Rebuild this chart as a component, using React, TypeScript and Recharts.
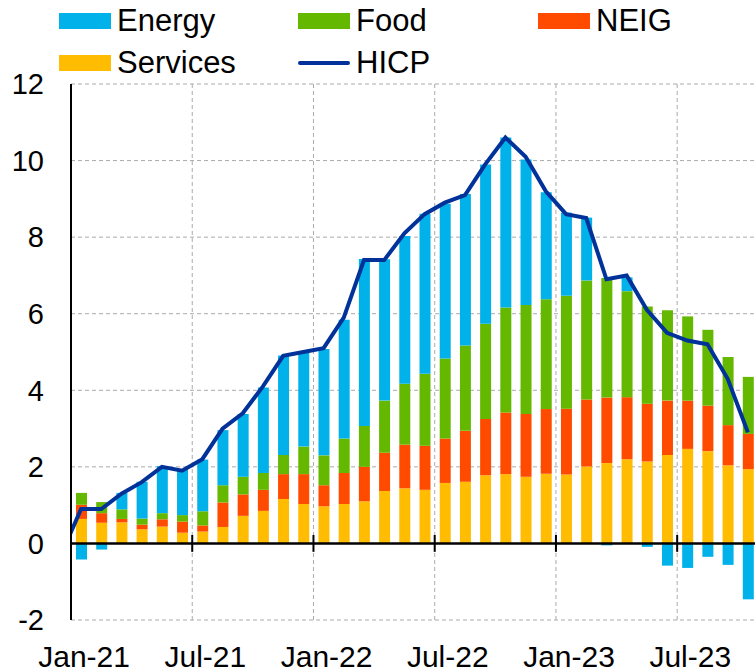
import {
  Bar,
  CartesianGrid,
  ComposedChart,
  Line,
  ReferenceLine,
  XAxis,
  YAxis,
} from "recharts";

// Euro area HICP inflation, contributions by component (pp).
// Dec-20 only feeds the HICP line, which gets clipped at the left axis.
const months = [
  "Dec-20",
  "Jan-21", "Feb-21", "Mar-21", "Apr-21", "May-21", "Jun-21",
  "Jul-21", "Aug-21", "Sep-21", "Oct-21", "Nov-21", "Dec-21",
  "Jan-22", "Feb-22", "Mar-22", "Apr-22", "May-22", "Jun-22",
  "Jul-22", "Aug-22", "Sep-22", "Oct-22", "Nov-22", "Dec-22",
  "Jan-23", "Feb-23", "Mar-23", "Apr-23", "May-23", "Jun-23",
  "Jul-23", "Aug-23", "Sep-23", "Oct-23",
];

const services = [
  null,
  0.64, 0.54, 0.55, 0.37, 0.44, 0.28, 0.31, 0.43, 0.72, 0.85, 1.16, 1.03,
  0.97, 1.03, 1.1, 1.37, 1.44, 1.4, 1.58, 1.61, 1.78, 1.81, 1.74, 1.82,
  1.8, 2.01, 2.1, 2.2, 2.14, 2.31, 2.47, 2.41, 2.04, 1.94,
];
const neig = [
  null,
  0.37, 0.25, 0.09, 0.12, 0.19, 0.29, 0.16, 0.64, 0.56, 0.55, 0.65, 0.78,
  0.55, 0.81, 0.9, 1.0, 1.14, 1.15, 1.16, 1.33, 1.47, 1.61, 1.64, 1.69,
  1.72, 1.75, 1.71, 1.62, 1.51, 1.42, 1.26, 1.19, 1.05, 0.92,
];
const food = [
  null,
  0.31, 0.29, 0.25, 0.16, 0.16, 0.17, 0.37, 0.45, 0.46, 0.44, 0.5, 0.72,
  0.78, 0.9, 1.07, 1.36, 1.59, 1.88, 2.09, 2.23, 2.49, 2.74, 2.85, 2.87,
  2.95, 3.11, 3.12, 2.77, 2.54, 2.36, 2.2, 1.98, 1.78, 1.49,
];
const energy = [
  null,
  -0.42, -0.16, 0.43, 0.96, 1.23, 1.19, 1.35, 1.44, 1.64, 2.23, 2.6, 2.47,
  2.78, 3.1, 4.36, 3.69, 3.86, 4.18, 4.04, 3.96, 4.16, 4.44, 3.8, 2.79,
  2.17, 1.64, -0.05, 0.36, -0.09, -0.58, -0.64, -0.35, -0.56, -1.46,
];
const hicp = [
  -0.3,
  0.9, 0.9, 1.3, 1.6, 2.0, 1.9, 2.2, 3.0, 3.4, 4.1, 4.9, 5.0,
  5.1, 5.9, 7.4, 7.4, 8.1, 8.6, 8.9, 9.1, 9.9, 10.6, 10.1, 9.2,
  8.6, 8.5, 6.9, 7.0, 6.1, 5.5, 5.3, 5.2, 4.3, 2.9,
];

const labelTicks = [0, 6, 12, 18, 24, 30];
const yTicks = [-2, 0, 2, 4, 6, 8, 10, 12];

const C_ENERGY = "#00b1ea";
const C_FOOD = "#65b800";
const C_NEIG = "#ff4b00";
const C_SERV = "#ffbc00";
const C_HICP = "#003299";

const FONT = '"Liberation Sans", Arial, sans-serif';

// x = month index, Jan-21 = 0
const rows = months.map((m, k) => ({
  i: k - 1,
  month: m,
  services: services[k],
  neig: neig[k],
  food: food[k],
  energy: energy[k],
  hicp: hicp[k],
}));

// half-year boundaries (between Jun/Jul and Dec/Jan)
const bounds = [-0.5, 5.5, 11.5, 17.5, 23.5, 29.5];

function LegendItem({ color, label, line }: { color: string; label: string; line?: boolean }) {
  return (
    <div style={{ display: "flex", alignItems: "center", height: 32 }}>
      {line ? (
        <span style={{ width: 52, height: 4, borderRadius: 2, background: color }} />
      ) : (
        <span style={{ width: 52, height: 16, background: color }} />
      )}
      <span style={{ marginLeft: 6, fontSize: 31, lineHeight: "32px", color: "#000" }}>{label}</span>
    </div>
  );
}

export default function App() {
  return (
    <div
      style={{
        position: "absolute",
        left: 0,
        top: 0,
        width: 755,
        height: 672,
        overflow: "hidden",
        background: "#fff",
        fontFamily: FONT,
      }}
    >
      <div style={{ position: "absolute", left: 59, top: 5 }}>
        <LegendItem color={C_ENERGY} label="Energy" />
      </div>
      <div style={{ position: "absolute", left: 298, top: 5 }}>
        <LegendItem color={C_FOOD} label="Food" />
      </div>
      <div style={{ position: "absolute", left: 538, top: 5 }}>
        <LegendItem color={C_NEIG} label="NEIG" />
      </div>
      <div style={{ position: "absolute", left: 59, top: 47 }}>
        <LegendItem color={C_SERV} label="Services" />
      </div>
      <div style={{ position: "absolute", left: 298, top: 47 }}>
        <LegendItem color={C_HICP} label="HICP" line />
      </div>

      <div style={{ position: "absolute", left: 0, top: 0 }}>
        <ComposedChart
          width={760}
          height={672}
          data={rows}
          stackOffset="sign"
          margin={{ top: 84, right: 2, bottom: 12, left: 0 }}
        >
          <CartesianGrid
            vertical={false}
            stroke="#aaa"
            strokeDasharray="4 3"
          />
          {bounds.slice(1).map((b) => (
            <ReferenceLine
              key={"g" + b}
              x={b}
              stroke="#aaa"
              strokeDasharray="4 3"
            />
          ))}
          <XAxis
            dataKey="i"
            type="number"
            domain={[-0.5, 33.5]}
            allowDataOverflow
            ticks={labelTicks}
            interval={0}
            tickFormatter={(v: number) => months[v + 1]}
            axisLine={false}
            tickLine={false}
            tickSize={0}
            tickMargin={26}
            height={40}
            tick={{ fontSize: 30, fill: "#000", fontFamily: FONT, dx: 3 }}
          />
          <YAxis
            domain={[-2, 12]}
            ticks={yTicks}
            interval={0}
            width={71}
            axisLine={{ stroke: "#000", strokeWidth: 2 }}
            tickLine={false}
            tickSize={0}
            tickMargin={27}
            tick={{ fontSize: 29, fill: "#000", fontFamily: FONT }}
          />
          <Bar dataKey="services" stackId="a" fill={C_SERV} barSize={11} isAnimationActive={false} />
          <Bar dataKey="neig" stackId="a" fill={C_NEIG} barSize={11} isAnimationActive={false} />
          <Bar dataKey="food" stackId="a" fill={C_FOOD} barSize={11} isAnimationActive={false} />
          <Bar dataKey="energy" stackId="a" fill={C_ENERGY} barSize={11} isAnimationActive={false} />
          <ReferenceLine y={0} stroke="#000" strokeWidth={2.5} />
          {bounds.map((b) => (
            <ReferenceLine
              key={"t" + b}
              segment={[
                { x: b, y: -0.22 },
                { x: b, y: 0.22 },
              ]}
              stroke="#000"
              strokeWidth={2}
            />
          ))}
          <Line
            dataKey="hicp"
            type="linear"
            stroke={C_HICP}
            strokeWidth={4}
            dot={false}
            activeDot={false}
            isAnimationActive={false}
          />
        </ComposedChart>
      </div>
    </div>
  );
}
